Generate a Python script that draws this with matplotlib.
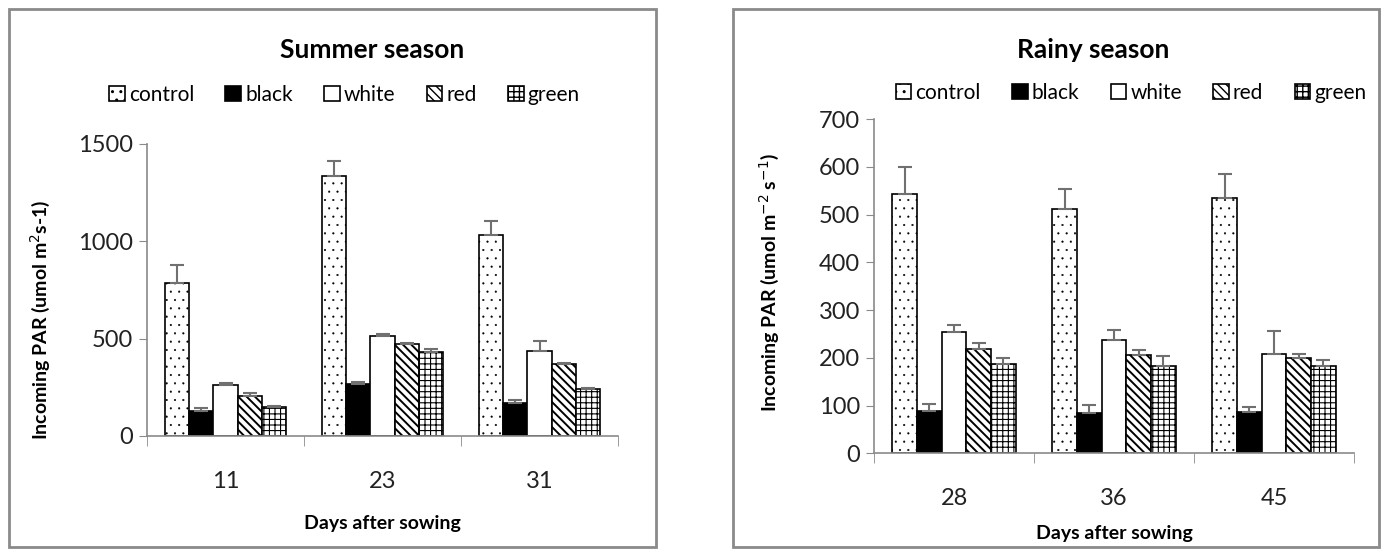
import numpy as np
import matplotlib.pyplot as plt
from matplotlib.patches import Rectangle

plt.rcParams['font.family'] = ['Lato', 'DejaVu Sans']

#===============================================================
# === data
#===============================================================
treatments = ['control', 'black', 'white', 'red', 'green']

summer_days = ['11', '23', '31']
summer_mean = {
    'control': [788, 1338, 1031],
    'black': [126, 265, 171],
    'white': [262, 512, 438],
    'red': [207, 472, 370],
    'green': [148, 433, 240],
}
summer_err = {
    'control': [90, 77, 74],
    'black': [18, 14, 14],
    'white': [8, 14, 52],
    'red': [15, 5, 5],
    'green': [5, 12, 5],
}

rainy_days = ['28', '36', '45']
rainy_mean = {
    'control': [542, 511, 534],
    'black': [89, 84, 86],
    'white': [253, 238, 208],
    'red': [218, 206, 199],
    'green': [186, 183, 183],
}
rainy_err = {
    'control': [58, 42, 50],
    'black': [15, 17, 11],
    'white': [16, 21, 48],
    'red': [14, 11, 9],
    'green': [13, 20, 12],
}

# bar styles (fill, hatch, hatch linewidth)
styles = {
    'control': ('white', '..', 0.3),
    'black': ('black', None, 1.0),
    'white': ('white', None, 1.0),
    'red': ('white', '\\\\\\\\', 1.4),
    'green': ('white', '+++', 0.8),
}

W, H = 1383, 552
fig = plt.figure(figsize=(W / 100, H / 100), dpi=100)

# panel frames
for x0, x1 in [(9, 656), (733, 1379)]:
    fig.patches.append(Rectangle((x0 / W, 1 - 547 / H), (x1 - x0) / W, (547 - 9) / H,
                                 transform=fig.transFigure, fill=False,
                                 edgecolor='#8a8a8a', linewidth=2))


def panel(rect, days, mean, err, ymax, ystep, title, ylabel,
          title_xy, leg_xy, ylab_xy, xlab_y, tick_pad):
    ax = fig.add_axes(rect)
    x = np.arange(len(days))
    w = 0.154
    handles = []
    for i, t in enumerate(treatments):
        fc, hatch, hlw = styles[t]
        with plt.rc_context({'hatch.linewidth': hlw}):
            b = ax.bar(x + (i - 2) * w, mean[t], w, color=fc, edgecolor='black',
                       hatch=hatch, linewidth=1.2, label=t, zorder=2)
        ax.errorbar(x + (i - 2) * w, mean[t],
                    yerr=[np.zeros(len(days)), err[t]],
                    fmt='none', ecolor='#707070', elinewidth=1.5, capsize=5,
                    capthick=1.5, zorder=3)
        handles.append(b)
    ax.set_xlim(-0.5, len(days) - 0.5)
    ax.set_ylim(0, ymax)
    ax.set_yticks(np.arange(0, ymax + 1, ystep))
    ax.set_xticks(x)
    ax.set_xticklabels(days)
    ax.set_xticks(np.arange(-0.5, len(days), 1), minor=True)
    ax.tick_params(axis='x', which='major', length=0, pad=tick_pad, labelsize=17,
                   labelcolor='#222222')
    ax.tick_params(axis='x', which='minor', length=7, color='#8a8a8a', direction='out')
    ax.tick_params(axis='y', length=6, color='#8a8a8a', labelsize=17, pad=4,
                   labelcolor='#222222')
    for s in ['top', 'right']:
        ax.spines[s].set_visible(False)
    for s in ['left', 'bottom']:
        ax.spines[s].set_color('#8a8a8a')
        ax.spines[s].set_linewidth(1.2)
    ax.set_xlabel('Days after sowing', fontsize=14, fontweight='bold')
    ax.xaxis.set_label_coords(0.5, xlab_y)
    ax.set_ylabel(ylabel, fontsize=14, fontweight='bold')
    ax.yaxis.set_label_coords(*ylab_xy)
    fig.text(title_xy[0], title_xy[1], title, ha='center', va='center',
             fontsize=19, fontweight='bold')
    fig.legend(handles=handles, labels=treatments, loc='center',
               bbox_to_anchor=leg_xy, ncol=5, frameon=False,
               fontsize=15, handlelength=0.75, handleheight=0.75,
               handletextpad=0.2, columnspacing=1.5)
    return ax


panel([147 / W, 1 - 436 / H, 471 / W, 292 / H], summer_days, summer_mean, summer_err,
      1500, 500, 'Summer season', 'Incoming PAR (umol m$^{2}$s-1)',
      (372 / W, 1 - 50 / H), (344.5 / W, 1 - 95 / H), (-0.202, 0.397), -0.27, 25)
panel([874 / W, 1 - 453.3 / H, 480 / W, 334.3 / H], rainy_days, rainy_mean, rainy_err,
      700, 100, 'Rainy season', 'Incoming PAR (umol m$^{-2}$ s$^{-1}$)',
      (1093 / W, 1 - 50 / H), (1131 / W, 1 - 93 / H), (-0.194, 0.512), -0.214, 25)

fig.savefig('out.png', dpi=100)
